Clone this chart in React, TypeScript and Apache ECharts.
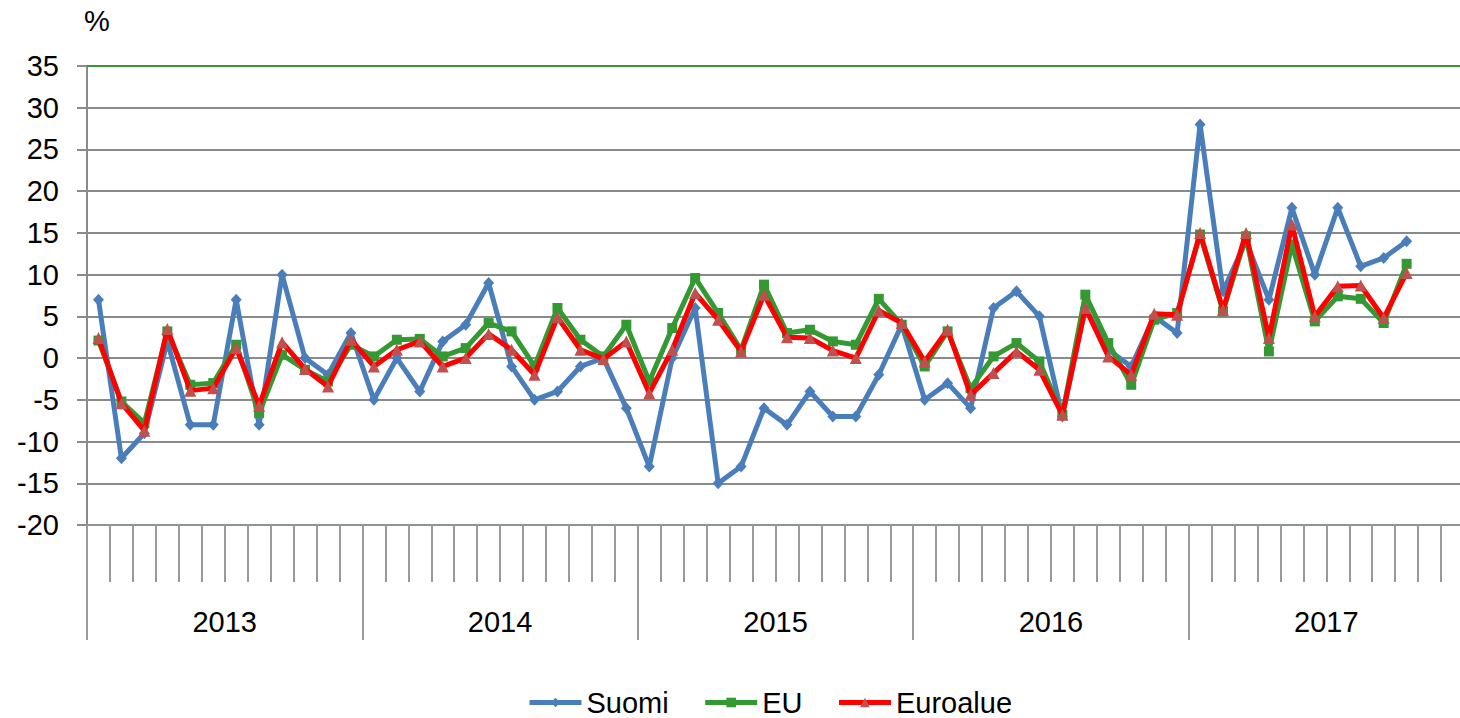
import React, { useEffect, useRef } from "react";
import * as echarts from "echarts";

const years = ["2013", "2014", "2015", "2016", "2017"];
const monthNames = ["01", "02", "03", "04", "05", "06", "07", "08", "09", "10", "11", "12"];

const suomi = [
  7, -12, -9, 2, -8, -8, 7, -8, 10, 0, -2, 3,
  -5, 0, -4, 2, 4, 9, -1, -5, -4, -1, 0, -6,
  -13, 0, 6, -15, -13, -6, -8, -4, -7, -7, -2, 4,
  -5, -3, -6, 6, 8, 5, -7, 6, 1, -1, 5, 3,
  28, 8, 14, 7, 18, 10, 18, 11, 12, 14,
];

const eu = [
  2.1, -5.2, -7.8, 3.2, -3.2, -3.0, 1.6, -6.6, 0.4, -1.4, -2.8, 1.6,
  0.2, 2.2, 2.3, 0.2, 1.2, 4.2, 3.2, -1.0, 6.0, 2.2, 0.2, 4.0,
  -2.8, 3.6, 9.6, 5.4, 1.0, 8.8, 3.0, 3.4, 2.0, 1.6, 7.1, 4.0,
  -1.0, 3.2, -3.6, 0.2, 1.8, -0.4, -6.8, 7.6, 1.8, -3.2, 4.6, 5.4,
  14.8, 5.6, 14.6, 0.8, 13.6, 4.4, 7.4, 7.1, 4.2, 11.3,
];

const euroalue = [
  2.4, -5.4, -8.7, 3.5, -3.9, -3.6, 1.2, -5.7, 1.9, -1.3, -3.4, 2.2,
  -1.0, 1.0, 2.0, -1.0, 0, 2.9, 1.0, -2.0, 4.9, 1.0, -0.1, 2.0,
  -4.2, 1.0, 7.8, 4.6, 0.8, 7.6, 2.5, 2.4, 0.9, 0, 5.7, 4.2,
  -0.4, 3.4, -4.4, -1.8, 0.8, -1.4, -6.8, 6.0, 0.2, -2.0, 5.3, 5.2,
  15, 5.8, 15, 2.4, 16, 5, 8.6, 8.7, 4.8, 10.2,
];

const yMin = -20;
const yMax = 35;
const yStep = 5;

const categories: string[] = [];
years.forEach((y) => monthNames.forEach((m) => categories.push(y + "-" + m)));

const FONT = "'Liberation Sans', Arial, sans-serif";
const GRAY = "#8a8a8a";

export default function App() {
  const ref = useRef<HTMLDivElement>(null);
  useEffect(() => {
    if (!ref.current) return;
    const chart = echarts.init(ref.current, null, { renderer: "svg" });
    chart.setOption({
      animation: false,
      backgroundColor: "#ffffff",
      textStyle: { fontFamily: FONT },
      grid: { left: 87, top: 66, width: 1377, height: 459, containLabel: false },
      graphic: [
        {
          type: "text",
          left: 84,
          top: 6,
          style: { text: "%", fontSize: 29, fontFamily: FONT, fill: "#000" },
        },
      ],
      legend: {
        bottom: 1,
        left: 527,
        padding: 0,
        itemWidth: 52,
        itemHeight: 12,
        itemGap: 34,
        lineStyle: { width: 5 },
        textStyle: { fontSize: 29, color: "#000", fontFamily: FONT },
        data: ["Suomi", "EU", "Euroalue"],
      },
      xAxis: [
        {
          type: "category",
          data: categories,
          boundaryGap: true,
          position: "bottom",
          axisLine: { show: true, onZero: false, lineStyle: { color: "#8c968c", width: 2 } },
          axisTick: { show: true, interval: 0, length: 57, lineStyle: { color: "#9a9a9a", width: 2 } },
          axisLabel: { show: false },
          splitLine: { show: false },
        },
        {
          type: "category",
          data: years,
          boundaryGap: true,
          position: "bottom",
          axisLine: { show: false, onZero: false },
          axisTick: { show: true, interval: 0, length: 115, lineStyle: { color: "#9a9a9a", width: 2 } },
          axisLabel: { show: true, interval: 0, fontSize: 29, color: "#000", margin: 82, fontFamily: FONT },
          splitLine: { show: false },
        },
      ],
      yAxis: {
        type: "value",
        min: yMin,
        max: yMax,
        interval: yStep,
        axisLine: { show: true, lineStyle: { color: GRAY, width: 2 } },
        axisTick: { show: true, length: 10, lineStyle: { color: GRAY, width: 2 } },
        axisLabel: { fontSize: 29, color: "#000", margin: 28, fontFamily: FONT },
        splitLine: { show: true, lineStyle: { color: GRAY, width: 2 } },
      },
      series: [
        {
          name: "Suomi",
          type: "line",
          xAxisIndex: 0,
          data: suomi,
          symbol: "diamond",
          symbolSize: [11, 12],
          lineStyle: { color: "#4a7ebb", width: 5 },
          itemStyle: { color: "#4a7ebb" },
          z: 2,
          markLine: {
            silent: true,
            symbol: "none",
            label: { show: false },
            lineStyle: { color: "#339933", width: 2, type: "solid" },
            data: [{ yAxis: yMax }],
          },
        },
        {
          name: "EU",
          type: "line",
          xAxisIndex: 0,
          data: eu,
          symbol: "rect",
          symbolSize: 10,
          lineStyle: { color: "#339933", width: 5 },
          itemStyle: { color: "#339933" },
          z: 3,
        },
        {
          name: "Euroalue",
          type: "line",
          xAxisIndex: 0,
          data: euroalue,
          symbol: "triangle",
          symbolSize: 12,
          lineStyle: { color: "#ff0000", width: 5 },
          itemStyle: { color: "#c0504d" },
          z: 4,
        },
      ],
    });
    return () => chart.dispose();
  }, []);
  return (
    <div
      style={{ position: "absolute", left: 0, top: 0, width: 1460, height: 718, overflow: "hidden" }}
    >
      <div ref={ref} style={{ width: 1480, height: 718 }} />
    </div>
  );
}
